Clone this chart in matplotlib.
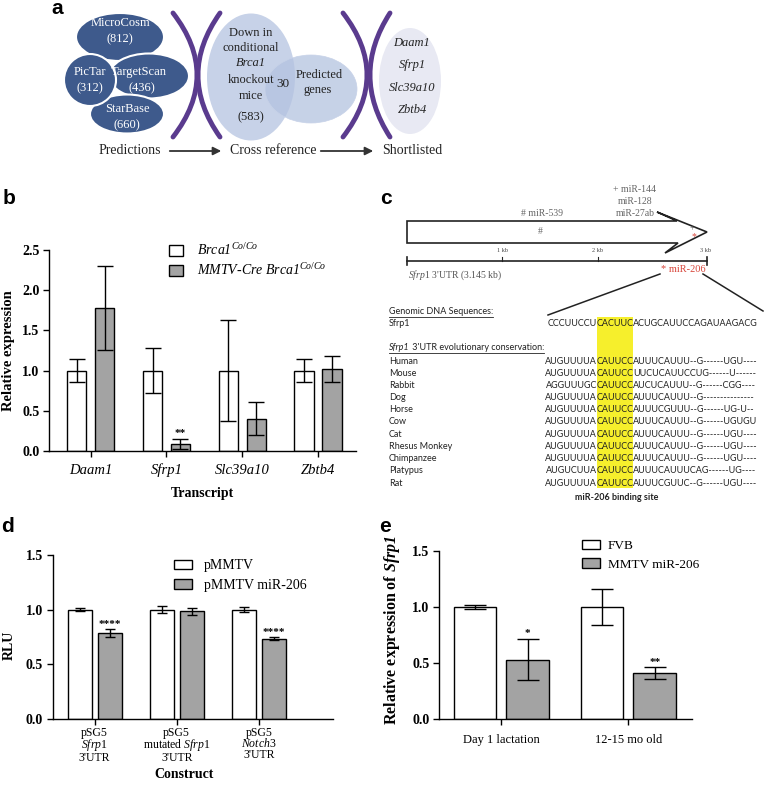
import numpy as np
import matplotlib
matplotlib.use('Agg')
import matplotlib.pyplot as plt
from matplotlib.patches import Ellipse, Polygon, Rectangle, PathPatch
from matplotlib.path import Path

plt.rcParams['font.family'] = ['Liberation Serif', 'DejaVu Serif']
plt.rcParams['mathtext.fontset'] = 'custom'
plt.rcParams['mathtext.rm'] = 'Liberation Serif'
plt.rcParams['mathtext.it'] = 'Liberation Serif:italic'
plt.rcParams['mathtext.bf'] = 'Liberation Serif:bold'
plt.rcParams['mathtext.bfit'] = 'Liberation Serif:italic:bold'

# ---- data ----
# panel a
pred_names = ['MicroCosm', 'PicTar', 'TargetScan', 'StarBase']
pred_counts = [812, 312, 436, 660]
ko_count = 583
overlap_count = 30
shortlist = ['Daam1', 'Sfrp1', 'Slc39a10', 'Zbtb4']
steps = ['Predictions', 'Cross reference', 'Shortlisted']

# panel b
b_genes = ['Daam1', 'Sfrp1', 'Slc39a10', 'Zbtb4']
b_ctrl = [1.0, 1.0, 1.0, 1.0]
b_ctrl_err = [0.145, 0.28, 0.63, 0.145]
b_ko = [1.78, 0.09, 0.40, 1.02]
b_ko_err = [0.525, 0.06, 0.205, 0.16]
b_sig = ['', '**', '', '']

# panel c
utr_len = 3.145
kb_ticks = [1, 2, 3]
species = ['Human', 'Mouse', 'Rabbit', 'Dog', 'Horse', 'Cow', 'Cat',
           'Rhesus Monkey', 'Chimpanzee', 'Platypus', 'Rat']
seq_pre = ['AUGUUUUA', 'AUGUUUUA', 'AGGUUUGC', 'AUGUUUUA', 'AUGUUUUA', 'AUGUUUUA',
           'AUGUUUUA', 'AUGUUUUA', 'AUGUUUUA', 'AUGUCUUA', 'AUGUUUUA']
seq_core = ['CAUUCC'] * 11
seq_post = ['AUUUCAUUU--G------UGU----', 'UUCUCAUUCCUG------U------',
            'AUCUCAUUU--G------CGG----', 'AUUUCAUUU--G---------------',
            'AUUUCGUUU--G------UG-U--', 'AUUUCAUUU--G------UGUGU',
            'AUUUCAUUU--G------UGU----', 'AUUUCAUUU--G------UGU----',
            'AUUUCAUUU--G------UGU----', 'AUUUCAUUUCAG------UG----',
            'AUUUCGUUC--G------UGU----']
genomic = ['CCCUUCCU', 'CACUUC', 'ACUGCAUUCCAGAUAAGACG']

# panel d
d_labels = ['pSG5\n$\\mathit{Sfrp1}$\n3\'UTR', 'pSG5\nmutated $\\mathit{Sfrp1}$\n3\'UTR',
            'pSG5\n$\\mathit{Notch3}$\n3\'UTR']
d_ctrl = [1.0, 1.0, 1.0]
d_ctrl_err = [0.015, 0.03, 0.02]
d_mir = [0.785, 0.985, 0.735]
d_mir_err = [0.035, 0.03, 0.012]
d_sig = ['****', '', '****']

# panel e
e_groups = ['Day 1 lactation', '12-15 mo old']
e_fvb = [1.0, 1.0]
e_fvb_err = [0.02, 0.16]
e_mir = [0.53, 0.41]
e_mir_err = [0.185, 0.05]
e_sig = ['*', '**']

W, H = 765, 791
fig = plt.figure(figsize=(W / 100, H / 100), dpi=100)
ov = fig.add_axes([0, 0, 1, 1])
ov.set_xlim(0, W)
ov.set_ylim(H, 0)
ov.axis('off')

lab_font = dict(family='Liberation Sans', fontweight='bold', fontsize=15)
for t, (x, y) in zip('abcde', [(57, 9), (9, 199), (386, 199), (8, 527), (385, 527)]):
    ov.text(x, y, t, ha='center', va='center', **lab_font)

# ---- panel a ----
dark = '#3e5a8c'
pred_geom = [(120, 37, 88, 48), (90, 80, 52, 52), (149, 76, 80, 45), (127, 114, 74, 39)]
order = [0, 2, 3, 1]
for i in order:
    cx, cy, w, h = pred_geom[i]
    ov.add_patch(Ellipse((cx, cy), w, h, fc=dark, ec='white', lw=1.5))
pred_txt = [(120, 23, 39), (90, 72, 88), (139, 72, 88), (127, 109, 125)]
for name, cnt, (x, y1, y2) in zip(pred_names, pred_counts, pred_txt):
    ov.text(x, y1, name, color='white', ha='center', va='center', fontsize=9)
    ov.text(x + (3 if name == 'TargetScan' else 0), y2, f'({cnt})', color='white',
            ha='center', va='center', fontsize=9)

purple = '#5a3b8e'
def bracket(x_end, x_mid, y0=13, y1=137):
    ctrl = 2 * x_mid - x_end
    p = Path([(x_end, y0), (ctrl, (y0 + y1) / 2), (x_end, y1)],
             [Path.MOVETO, Path.CURVE3, Path.CURVE3])
    ov.add_patch(PathPatch(p, fc='none', ec=purple, lw=3.5, capstyle='round'))

bracket(173, 197)
bracket(220, 198)
bracket(343, 367)
bracket(390, 370)

ov.add_patch(Ellipse((251, 77), 88, 127, fc='#c7d2e8', ec='none'))
ov.add_patch(Ellipse((311, 89), 92, 68, fc='#b4c3e0', ec='none', alpha=0.75))
ov.add_patch(Ellipse((311, 89), 92, 68, fc='none', ec='#c7d2e8', lw=0.5))
ko_lines = [('Down in', 'normal', 33), ('conditional', 'normal', 48),
            ('Brca1', 'italic', 63), ('knockout', 'normal', 80), ('mice', 'normal', 96),
            (f'({ko_count})', 'normal', 117)]
for txt, st, y in ko_lines:
    ov.text(251, y, txt, ha='center', va='center', fontsize=9, style=st, color='#222222')
ov.text(283, 84, str(overlap_count), ha='center', va='center', fontsize=9.5, color='#222222')
ov.text(319, 75, 'Predicted', ha='center', va='center', fontsize=9, color='#222222')
ov.text(318, 90, 'genes', ha='center', va='center', fontsize=9, color='#222222')

ov.add_patch(Ellipse((410, 81), 62, 106, fc='#e8e9f3', ec='none'))
for g, y in zip(shortlist, [43, 65, 88, 110]):
    ov.text(412, y, g, ha='center', va='center', fontsize=9, style='italic', color='#222222')

for s, x in zip(steps, [130, 273, 412]):
    ov.text(x, 151, s, ha='center', va='center', fontsize=10, color='#222222')
for x0, x1 in [(167, 224), (318, 376)]:
    ov.annotate('', xy=(x1, 151), xytext=(x0, 151),
                arrowprops=dict(arrowstyle='-|>', color='#333333', lw=1.3,
                                mutation_scale=12))

# ---- panel c ----
gray_t = '#666666'
red = '#d8453a'
arrow_pts = [(407, 221), (677, 221), (657, 212), (707, 232), (665, 253),
             (678, 243), (407, 243)]
ov.add_patch(Polygon(arrow_pts, closed=True, fc='white', ec='#222222', lw=1.2))
ov.text(540, 232, '#', ha='center', va='center', fontsize=7, color=gray_t)
ov.text(542, 214, '# miR-539', ha='center', va='center', fontsize=7, color=gray_t)
for t, y in zip(['+ miR-144', 'miR-128', 'miR-27ab'], [190, 202, 214]):
    ov.text(635, y, t, ha='center', va='center', fontsize=7, color=gray_t)
ov.text(692, 229, '+', ha='center', va='center', fontsize=7, color=gray_t)
ov.text(694, 237, '*', ha='center', va='center', fontsize=7, color=red)

x0kb, px_kb = 407, 95.3
ov.plot([x0kb, x0kb + utr_len * px_kb], [261, 261], color='#222222', lw=1.2)
for xe in [x0kb, x0kb + utr_len * px_kb]:
    ov.plot([xe, xe], [257, 265], color='#222222', lw=1.2)
for k in kb_ticks:
    xk = x0kb + k * px_kb
    if k < 3:
        ov.plot([xk, xk], [257, 261], color='#222222', lw=0.8)
    ov.text(xk + (13 if k == 3 else 0), 250, f'{k} kb', ha='center', va='center',
            fontsize=4.5, color='#444444')
ov.text(408, 275, "$\\mathit{Sfrp1}$ 3'UTR (3.145 kb)", ha='left', va='center',
        fontsize=7, color='#555555')
ov.text(683, 270, '* miR-206', ha='center', va='center', fontsize=7.5, color=red)
ov.plot([660, 548], [274, 315], color='#222222', lw=1.1)
ov.plot([703, 763], [274, 311], color='#222222', lw=1.1)

ov.add_patch(Rectangle((597, 317), 36, 171, fc='#f6ef2c', ec='none'))

sf = dict(family=['Lato', 'DejaVu Sans'], fontsize=6.5, color='#222222')
fig.canvas.draw()
rend = fig.canvas.get_renderer()

def tw(t):
    return t.get_window_extent(rend).width

t1 = ov.text(389, 312, 'Genomic DNA Sequences:', ha='left', va='center', **sf)
ov.plot([389, 389 + tw(t1)], [317, 317], color='#222222', lw=0.6)
ov.text(389, 323, 'Sfrp1', ha='left', va='center', **sf)
ov.text(597, 323, genomic[0], ha='right', va='center', **sf)
ov.text(615, 323, genomic[1], ha='center', va='center', **sf)
ov.text(633, 323, genomic[2], ha='left', va='center', **sf)

t2 = ov.text(389, 348, 'Sfrp1', ha='left', va='center', style='italic', **sf)
w2 = tw(t2)
t3 = ov.text(389 + w2, 348, " 3'UTR evolutionary conservation:", ha='left', va='center', **sf)
ov.plot([389, 389 + w2 + tw(t3)], [353, 353], color='#222222', lw=0.6)

for i, (sp, a, b, c) in enumerate(zip(species, seq_pre, seq_core, seq_post)):
    y = 361 + i * 12.2
    ov.text(389, y, sp, ha='left', va='center', **sf)
    ov.text(597, y, a, ha='right', va='center', **sf)
    ov.text(615, y, b, ha='center', va='center', **sf)
    ov.text(633, y, c, ha='left', va='center', **sf)
ov.text(617, 497, 'miR-206 binding site', ha='center', va='center', fontweight='bold',
        **sf)

# ---- bar panels ----
def style_ax(ax, pad):
    for s in ['top', 'right']:
        ax.spines[s].set_visible(False)
    for s in ['left', 'bottom']:
        ax.spines[s].set_linewidth(1.0)
    ax.tick_params(direction='out', length=4, width=1.0)
    ax.tick_params(axis='y', labelsize=10, pad=3)
    ax.tick_params(axis='x', pad=pad)
    for lbl in ax.get_yticklabels():
        lbl.set_fontweight('bold')

def bars(ax, ctrl, ctrl_err, trt, trt_err, sig, width, off, cap, labels):
    x = np.arange(len(ctrl))
    ax.bar(x - off, ctrl, width, color='white', edgecolor='black', lw=1.0, label=labels[0])
    ax.bar(x + off, trt, width, color='#a3a3a3', edgecolor='black', lw=1.0, label=labels[1])
    ax.errorbar(x - off, ctrl, yerr=ctrl_err, fmt='none', ecolor='black', elinewidth=1.0,
                capsize=cap, capthick=1.0)
    ax.errorbar(x + off, trt, yerr=trt_err, fmt='none', ecolor='black', elinewidth=1.0,
                capsize=cap, capthick=1.0)
    for xi, v, e, s in zip(x + off, trt, trt_err, sig):
        if s:
            ax.annotate(s, (xi, v + e), xytext=(0, 0.5), textcoords='offset points',
                        ha='center', va='bottom', fontsize=8, fontweight='bold')
    ax.set_xticks(x)
    return x

# b
axb = fig.add_axes([49 / W, 1 - 451 / H, 307 / W, 201 / H])
bars(axb, b_ctrl, b_ctrl_err, b_ko, b_ko_err, b_sig, 0.257, 0.184, 6,
     ['Brca1$^{Co/Co}$', 'MMTV-Cre Brca1$^{Co/Co}$'])
axb.set_xlim(-0.55, 3.5)
axb.set_ylim(0, 2.5)
axb.set_yticks(np.arange(0, 2.51, 0.5))
axb.set_yticklabels([f'{v:.1f}' for v in np.arange(0, 2.51, 0.5)])
axb.set_xticklabels(b_genes, fontstyle='italic', fontsize=10.5)
style_ax(axb, 5)
axb.set_xlabel('Transcript', fontweight='bold', fontsize=10)
axb.set_ylabel('Relative expression', fontweight='bold', fontsize=10.5)
axb.yaxis.set_label_coords(-0.11, 0.5)
axb.xaxis.set_label_coords(0.5, -0.18)
axb.legend(loc='upper left', bbox_to_anchor=(0.35, 1.10), frameon=False,
           handlelength=1.0, handleheight=0.8, handletextpad=1.0, labelspacing=0.3,
           prop=dict(size=10, style='italic'))

# d
axd = fig.add_axes([52.7 / W, 1 - 719 / H, 280 / W, 164 / H])
bars(axd, d_ctrl, d_ctrl_err, d_mir, d_mir_err, d_sig, 0.293, 0.183, 3.5,
     ['pMMTV', 'pMMTV miR-206'])
axd.set_xlim(-0.51, 2.9)
axd.set_ylim(0, 1.5)
axd.set_yticks([0, 0.5, 1.0, 1.5])
axd.set_yticklabels(['0.0', '0.5', '1.0', '1.5'])
axd.set_xticklabels(d_labels, fontsize=8.5, linespacing=0.85)
style_ax(axd, 1.5)
axd.set_xlabel('Construct', fontweight='bold', fontsize=10)
axd.xaxis.set_label_coords(0.47, -0.30)
axd.set_ylabel('RLU', fontweight='bold', fontsize=10)
axd.yaxis.set_label_coords(-0.131, 0.45)
axd.legend(loc='upper left', bbox_to_anchor=(0.39, 1.05), frameon=False,
           handlelength=1.3, handleheight=0.7, handletextpad=0.8, labelspacing=0.45,
           prop=dict(size=10))

# e
axe = fig.add_axes([439 / W, 1 - 719 / H, 253 / W, 168 / H])
bars(axe, e_fvb, e_fvb_err, e_mir, e_mir_err, e_sig, 0.336, 0.207, 8,
     ['FVB', 'MMTV miR-206'])
axe.set_xlim(-0.49, 1.5)
axe.set_ylim(0, 1.5)
axe.set_yticks([0, 0.5, 1.0, 1.5])
axe.set_yticklabels(['0.0', '0.5', '1.0', '1.5'])
axe.set_xticklabels(e_groups, fontsize=9)
style_ax(axe, 7)
axe.set_ylabel('Relative expression of $\\mathbfit{Sfrp1}$', fontweight='bold', fontsize=11.5)
axe.yaxis.set_label_coords(-0.146, 0.53)
axe.legend(loc='upper left', bbox_to_anchor=(0.52, 1.135), frameon=False,
           handlelength=1.3, handleheight=0.7, handletextpad=0.6, labelspacing=0.45,
           prop=dict(size=9.5))

fig.savefig('out.png', dpi=100)
